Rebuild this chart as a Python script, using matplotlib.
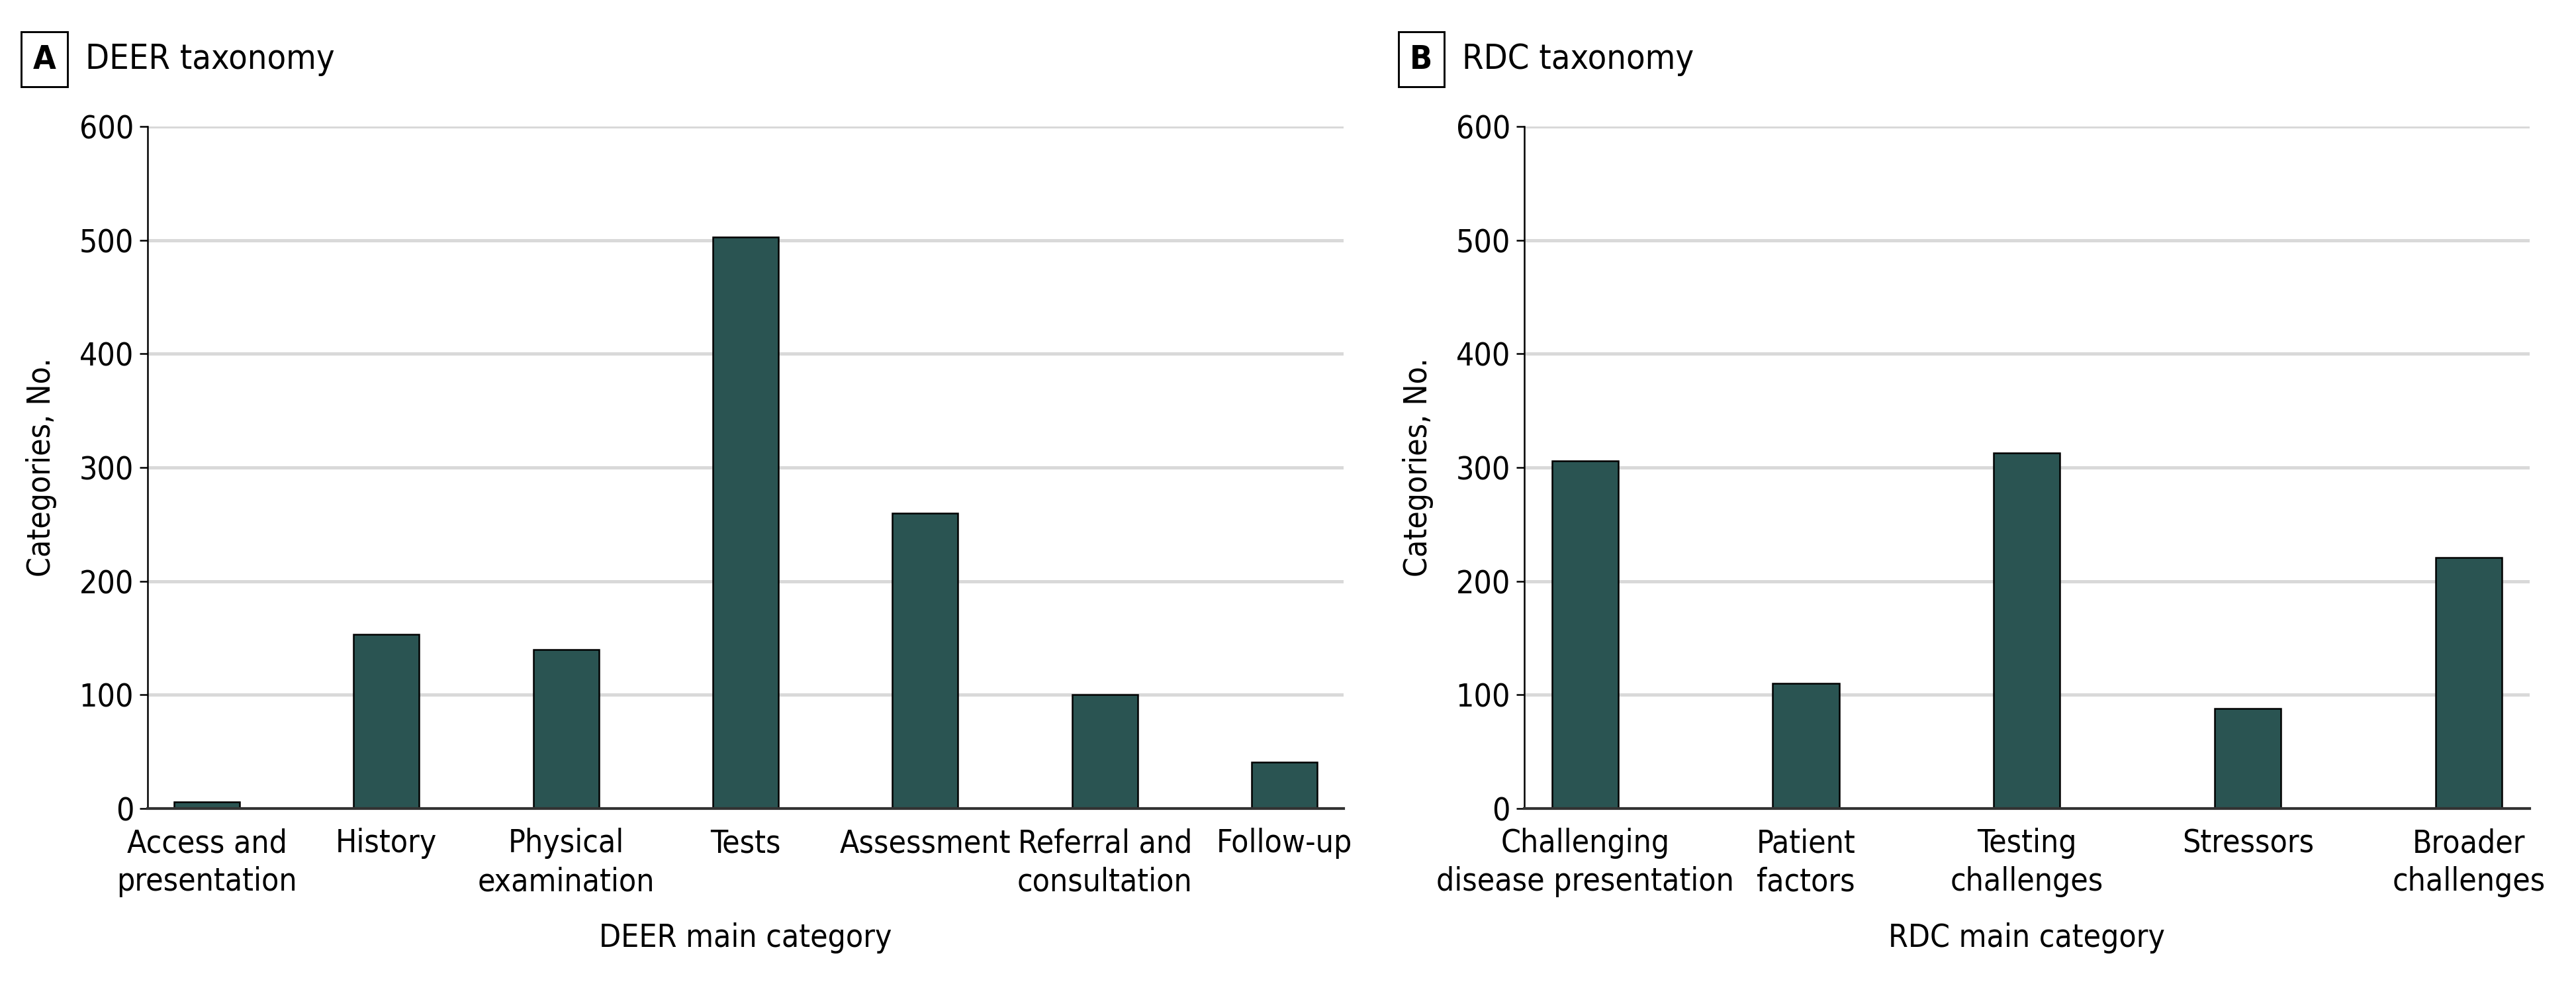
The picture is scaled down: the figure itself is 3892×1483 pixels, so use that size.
import matplotlib
matplotlib.use("Agg")
import matplotlib.pyplot as plt

plt.rcParams['font.family'] = ['DejaVu Sans']
plt.rcParams['font.stretch'] = 'condensed'

# DEER taxonomy (panel A)
deer_labels = ['Access and\npresentation', 'History', 'Physical\nexamination', 'Tests',
               'Assessment', 'Referral and\nconsultation', 'Follow-up']
deer_counts = [6, 153, 140, 503, 260, 100, 41]

# RDC taxonomy (panel B)
rdc_labels = ['Challenging\ndisease presentation', 'Patient\nfactors', 'Testing\nchallenges',
              'Stressors', 'Broader\nchallenges']
rdc_counts = [306, 110, 313, 88, 221]

yticks = [0, 100, 200, 300, 400, 500, 600]

BAR = '#2a5452'
GRID = '#d9d9d9'
FS = 11.5

fig = plt.figure(figsize=(3892 / 300, 1483 / 300), dpi=300)
axA = fig.add_axes([0.0573, 0.1767, 0.4643, 0.6945])
axB = fig.add_axes([0.5917, 0.1767, 0.3903, 0.6945])


def draw(ax, labels, counts, width, pad, xlabel):
    x = list(range(len(labels)))
    ax.bar(x, counts, width=width, color=BAR, edgecolor='black', linewidth=0.6, zorder=3)
    ax.set_xlim(-pad, len(labels) - 1 + pad)
    ax.set_ylim(0, 600)
    ax.set_yticks(yticks)
    ax.set_xticks(x)
    ax.set_xticklabels(labels, fontsize=FS, linespacing=1.3)
    ax.tick_params(axis='x', length=0, pad=7)
    ax.tick_params(axis='y', length=3, width=0.6, labelsize=FS, pad=2)
    for v in yticks[1:]:
        ax.axhline(v, color=GRID, lw=1.2, zorder=1)
    for s in ['top', 'right']:
        ax.spines[s].set_visible(False)
    ax.spines['left'].set_linewidth(0.6)
    ax.spines['bottom'].set_linewidth(1.0)
    ax.spines['bottom'].set_color('#333333')
    ax.spines['bottom'].set_zorder(4)
    ax.set_ylabel('Categories, No.', fontsize=FS, labelpad=8)
    ax.set_xlabel(xlabel, fontsize=FS, labelpad=9)


draw(axA, deer_labels, deer_counts, 0.365, 0.33, 'DEER main category')
draw(axB, rdc_labels, rdc_counts, 0.30, 0.275, 'RDC main category')

box = dict(boxstyle='square,pad=0.35', fc='white', ec='black', lw=0.7)
ty = 0.9396
fig.text(0.0172, ty, 'A', fontsize=12, fontweight='bold', ha='center', va='center', bbox=box)
fig.text(0.0332, ty, 'DEER taxonomy', fontsize=12.5, ha='left', va='center')
fig.text(0.5517, ty, 'B', fontsize=12, fontweight='bold', ha='center', va='center', bbox=box)
fig.text(0.5676, ty, 'RDC taxonomy', fontsize=12.5, ha='left', va='center')

fig.savefig('out.png', dpi=300, facecolor='white')
